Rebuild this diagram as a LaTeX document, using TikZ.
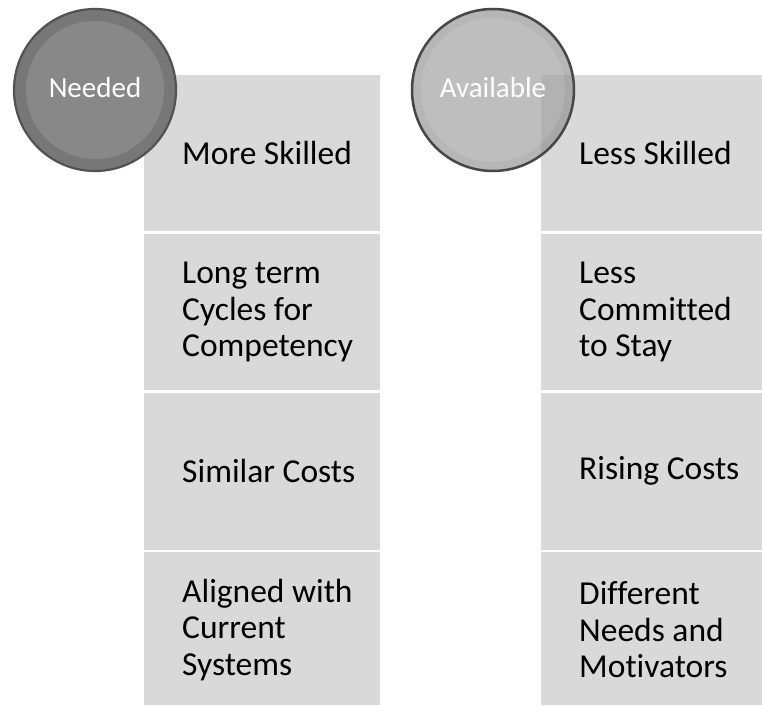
\documentclass[tikz,border=0pt]{standalone}
\usepackage{fontspec}
\setmainfont[Ligatures=NoCommon]{Carlito}
\begin{document}
\begin{tikzpicture}[x=1pt,y=1pt,
  cell/.style={fill=boxgray, draw=none},
  celltext/.style={anchor=west, align=left, font=\fontsize{33.5}{36.5}\selectfont, text=black, inner sep=0pt},
  circtext/.style={font=\fontsize{29}{32}\selectfont, text=white, inner sep=0pt}]
\definecolor{boxgray}{HTML}{D9D9D9}
\definecolor{needring}{HTML}{777777}
\definecolor{needin}{HTML}{888888}
\definecolor{availring}{HTML}{8A8A8A}
\useasboundingbox (0,0) rectangle (762,705);
\fill[white] (0,0) rectangle (762,705);
% left column boxes
\path[cell] (144,630) rectangle (380,473.5);
\path[cell] (144,471) rectangle (380,315);
\path[cell] (144,312.5) rectangle (380,155.5);
\path[cell] (144,153) rectangle (380,0);
% right column boxes
\path[cell] (541,630) rectangle (762,473.5);
\path[cell] (541,471) rectangle (762,315);
\path[cell] (541,312.5) rectangle (762,155.5);
\path[cell] (541,153) rectangle (762,0);
% texts
\node[celltext] (t1) at (182,552) {More Skilled};
\node[celltext] (t2) at (182,393) {Long term\\Cycles for\\Competency};
\node[celltext] (t3) at (182,234) {Similar Costs};
\node[celltext] (t4) at (182,75) {Aligned with\\Current\\Systems};
\node[celltext] (u1) at (579,552) {Less Skilled};
\node[celltext] (u2) at (579,393) {Less\\Committed\\to Stay};
\node[celltext] (u3) at (579,234) {Rising Costs};
\node[celltext] (u4) at (579,75) {Different\\Needs and\\Motivators};
% Needed circle
\fill[needring] (95,615) circle (81);
\fill[needin] (95,615) circle (69);
\draw[line width=2.2pt, draw=black!68] (95,615) circle (81);
\node[circtext] (needed) at (95,617) {Needed};
% Available circle (semi transparent)
\begin{scope}[fill opacity=0.62]
\fill[availring] (493,615) circle (81);
\end{scope}
\begin{scope}[fill opacity=0.12]
\fill[white] (493,615) circle (72);
\end{scope}
\draw[line width=2.5pt, draw=black!72] (493,615) circle (81);
\node[circtext] (avail) at (493,617) {Available};
\end{tikzpicture}
\end{document}
